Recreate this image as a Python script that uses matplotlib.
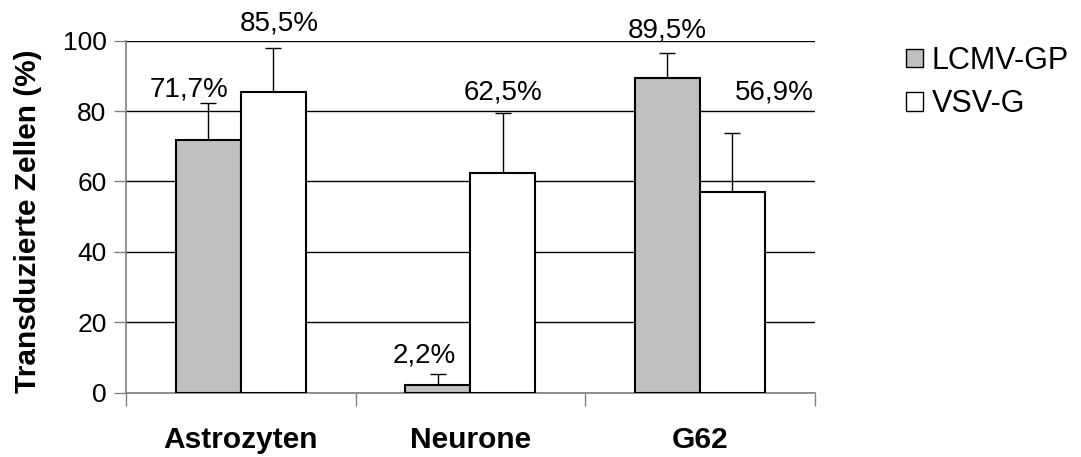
import numpy as np
import matplotlib.pyplot as plt
from matplotlib.patches import Patch

# data
categories = ['Astrozyten', 'Neurone', 'G62']
series = ['LCMV-GP', 'VSV-G']
lcmv = [71.7, 2.2, 89.5]
vsv = [85.5, 62.5, 56.9]
lcmv_err = [10.6, 3.1, 6.9]
vsv_err = [12.3, 17.0, 16.9]
lcmv_text = ['71,7%', '2,2%', '89,5%']
vsv_text = ['85,5%', '62,5%', '56,9%']

plt.rcParams['font.family'] = ['Liberation Sans', 'DejaVu Sans']

fig = plt.figure(figsize=(10.81, 4.57), dpi=100)
ax = fig.add_axes([0.1166, 0.1407, 0.6370, 0.7703])

x = np.arange(len(categories))
w = 0.283

# gridlines
ax.set_axisbelow(True)
ax.yaxis.grid(True, color='black', linewidth=1.0)

ax.bar(x - w / 2, lcmv, w, color='#c0c0c0', edgecolor='black', linewidth=1.5, zorder=3)
ax.bar(x + w / 2, vsv, w, color='white', edgecolor='black', linewidth=1.5, zorder=3)

# upper error bars only
ax.errorbar(x - w / 2, lcmv, yerr=[np.zeros(3), lcmv_err], fmt='none',
            ecolor='black', elinewidth=1.0, capsize=5.5, capthick=1.0, zorder=2)
ax.errorbar(x + w / 2, vsv, yerr=[np.zeros(3), vsv_err], fmt='none',
            ecolor='black', elinewidth=1.0, capsize=5.5, capthick=1.0, zorder=2)

# value labels (manually placed as in the original)
lab_font = ['Liberation Sans Narrow', 'Liberation Sans']
lcmv_pos = [(-0.083, 86.0), (-0.061, 10.7), (0.0, 103.0)]
vsv_pos = [(0.026, 105.0), (0.0, 85.4), (0.183, 85.4)]
for i in range(len(categories)):
    dx, yy = lcmv_pos[i]
    ax.text(x[i] - w / 2 + dx, yy, lcmv_text[i], ha='center', va='center',
            fontsize=20, family=lab_font, clip_on=False, zorder=5)
    dx, yy = vsv_pos[i]
    ax.text(x[i] + w / 2 + dx, yy, vsv_text[i], ha='center', va='center',
            fontsize=20, family=lab_font, clip_on=False, zorder=5)

ax.set_xlim(-0.5, 2.5)
ax.set_ylim(0, 100)
ax.set_yticks([0, 20, 40, 60, 80, 100])
ax.tick_params(axis='y', labelsize=19, length=9, width=1, color='#808080', pad=5)

# category ticks at boundaries, labels at centres
ax.set_xticks([-0.5, 0.5, 1.5, 2.5])
ax.set_xticklabels([])
ax.tick_params(axis='x', length=9, width=1, color='#808080')
for i, c in enumerate(categories):
    ax.text(x[i], -0.135, c, transform=ax.get_xaxis_transform(), ha='center',
            va='center', fontsize=21.5, fontweight='bold')

for s in ['top', 'right']:
    ax.spines[s].set_visible(False)
for s in ['left', 'bottom']:
    ax.spines[s].set_color('#808080')
    ax.spines[s].set_linewidth(1.2)

fig.text(0.026, 0.515, 'Transduzierte Zellen (%)', rotation=90,
         ha='center', va='center', fontsize=21.5, fontweight='bold')

handles = [Patch(facecolor='#c0c0c0', edgecolor='black', linewidth=1.0),
           Patch(facecolor='white', edgecolor='black', linewidth=1.0)]
fig.legend(handles, series, loc='upper left', bbox_to_anchor=(0.838, 0.9),
           frameon=False, fontsize=22, handlelength=0.55, handleheight=0.55,
           handletextpad=0.3, labelspacing=0.45, borderpad=0, borderaxespad=0)

fig.savefig('out.png', dpi=100)
